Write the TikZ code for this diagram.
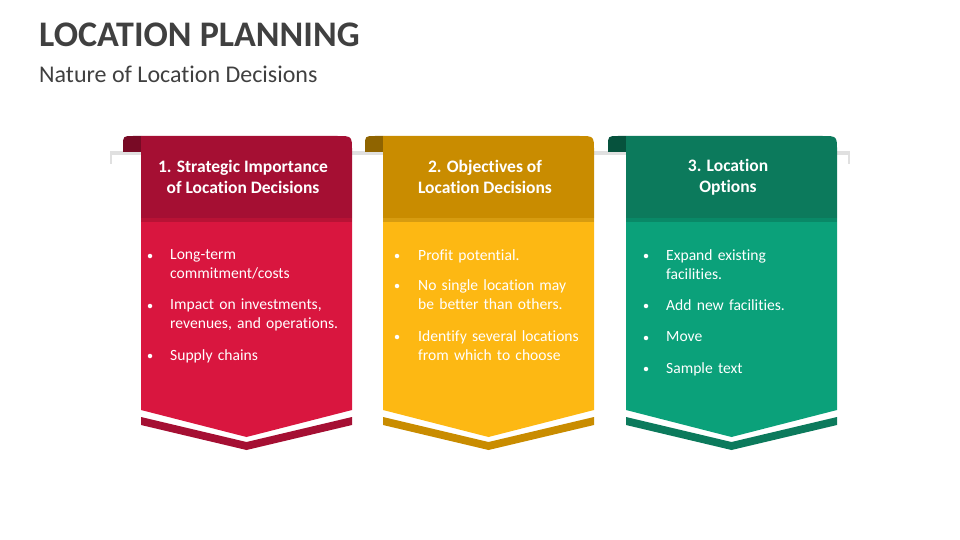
\documentclass[tikz,border=0pt]{standalone}
\usepackage{fontspec}
\setmainfont{Carlito}[Ligatures=NoCommon]
\begin{document}
\begin{tikzpicture}[x=1pt,y=-1pt,
  head/.style={font=\bfseries\fontsize{17.5}{21}\selectfont,text=white,align=center},
  bul/.style={font=\fontsize{15.6}{19}\selectfont,text=white,align=left,anchor=north west,text width=190pt,inner sep=0pt},
  dot/.style={circle,fill=white,inner sep=0pt,minimum size=4.5pt}]
\useasboundingbox (0,0) rectangle (960,540);
\definecolor{rH}{HTML}{A50F33}\definecolor{rB}{HTML}{D9163F}\definecolor{rT}{HTML}{780A25}
\definecolor{oH}{HTML}{C98C00}\definecolor{oB}{HTML}{FDB813}\definecolor{oT}{HTML}{8F6400}
\definecolor{gH}{HTML}{0C7A5C}\definecolor{gB}{HTML}{0BA17A}\definecolor{gT}{HTML}{06523D}
\node[anchor=west,inner sep=0pt,font=\bfseries\fontsize{36}{40}\selectfont,text=black!75] (title) at (39,35) {LOCATION PLANNING};
\node[anchor=west,inner sep=0pt,font=\fontsize{24}{26}\selectfont,text=black!75] (sub) at (39,74) {Nature of Location Decisions};
% bar
\fill[black!12] (110,151) rectangle (850,164);
\fill[white] (112,155) rectangle (848,164);
\foreach \x/\H/\B/\T [count=\i] in {141/rH/rB/rT,383/oH/oB/oT,626/gH/gB/gT}{
  \fill[\T] (\x-18,152) -- (\x-18,146) .. controls (\x-18,136) .. (\x-8,136) -- (\x,136) -- (\x,152) -- cycle;
  \fill[\H] (\x,136) -- (\x+196,136) .. controls (\x+211,136) .. (\x+211,151) -- (\x+211,218) -- (\x,218) -- cycle;
  \fill[\B] (\x,218) -- (\x+211,218) -- (\x+211,410) -- (\x+105.5,437) -- (\x,410) -- cycle;
  \fill[black,opacity=0.15] (\x,218) rectangle (\x+211,222);
  \fill[\H] (\x,417) -- (\x+105.5,442) -- (\x+211,417) -- (\x+211,425) -- (\x+105.5,450) -- (\x,425) -- cycle;
}
\node[head] (h1) at (243,177) {1. Strategic Importance\\of Location Decisions};
\node[head] (h2) at (485,177) {2. Objectives of\\Location Decisions};
\node[head] (h3) at (728,177) {3. Location\\Options};
\foreach \y/\t [count=\i] in {249/{Long-term\\commitment/costs},299/{Impact on investments,\\revenues, and operations.},349/{Supply chains}}{
  \node[dot] (d1\i) at (150,\y+7) {}; \node[bul] (b1\i) at (170,\y) {\t};}
\foreach \y/\t [count=\i] in {249/{Profit potential.},279/{No single location may\\be better than others.},330/{Identify several locations\\from which to choose}}{
  \node[dot] (d2\i) at (397,\y+7) {}; \node[bul] (b2\i) at (418,\y) {\t};}
\foreach \y/\t [count=\i] in {249/{Expand existing\\facilities.},299/{Add new facilities.},331/{Move},362/{Sample text}}{
  \node[dot] (d3\i) at (646,\y+7) {}; \node[bul] (b3\i) at (666,\y) {\t};}
\end{tikzpicture}
\end{document}
